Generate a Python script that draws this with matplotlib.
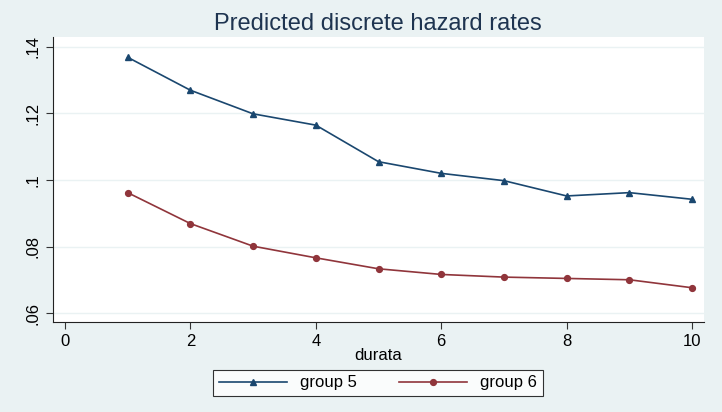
import matplotlib.pyplot as plt

# durata (x) and predicted hazard rates
durata = [1, 2, 3, 4, 5, 6, 7, 8, 9, 10]
group5 = [0.1369, 0.1270, 0.1199, 0.1165, 0.1055, 0.1020, 0.0998, 0.0952, 0.0962, 0.0942]
group6 = [0.0962, 0.0869, 0.0801, 0.0766, 0.0733, 0.0716, 0.0708, 0.0704, 0.0700, 0.0676]
xticks = [0, 2, 4, 6, 8, 10]
yticks = [0.06, 0.08, 0.10, 0.12, 0.14]
ytick_labels = ['.06', '.08', '.1', '.12', '.14']

plt.rcParams['font.family'] = ['Liberation Sans', 'DejaVu Sans']

bg = '#eaf2f3'
navy = '#1a476f'
maroon = '#90353b'

fig = plt.figure(figsize=(7.22, 4.12), dpi=100, facecolor=bg)
ax = fig.add_axes([53 / 722, 1 - 322 / 412, (704 - 53) / 722, (322 - 37) / 412])
ax.set_facecolor('white')

l5, = ax.plot(durata, group5, color=navy, lw=1.2, marker='^', ms=5, label='group 5')
l6, = ax.plot(durata, group6, color=maroon, lw=1.2, marker='o', ms=4.2, label='group 6')

ax.set_xlim(-0.19, 10.19)
ax.set_ylim(0.0573, 0.143)
ax.set_xticks(xticks)
ax.set_yticks(yticks)
ax.set_yticklabels(ytick_labels, rotation=90, va='center')
ax.tick_params(labelsize=12, direction='out', length=5, color='#333333', pad=4)
ax.grid(axis='y', color=bg, lw=1)
ax.set_axisbelow(True)
for s in ['top', 'right']:
    ax.spines[s].set_visible(False)
for s in ['left', 'bottom']:
    ax.spines[s].set_color('#222222')

ax.set_xlabel('durata', fontsize=12, labelpad=-1)
fig.text(378 / 722, 1 - 24 / 412, 'Predicted discrete hazard rates',
         fontsize=17, color='#1e3450', ha='center', va='center')

leg = fig.legend(handles=[l5, l6], loc='center', bbox_to_anchor=(378 / 722, 1 - 383 / 412),
                 ncol=2, frameon=True, fancybox=False, edgecolor='black', fontsize=12,
                 handlelength=4.1, columnspacing=2.5, borderpad=0.35)
leg.get_frame().set_linewidth(0.8)
leg.get_frame().set_facecolor('white')

fig.savefig('out.png', dpi=100, facecolor=bg)
